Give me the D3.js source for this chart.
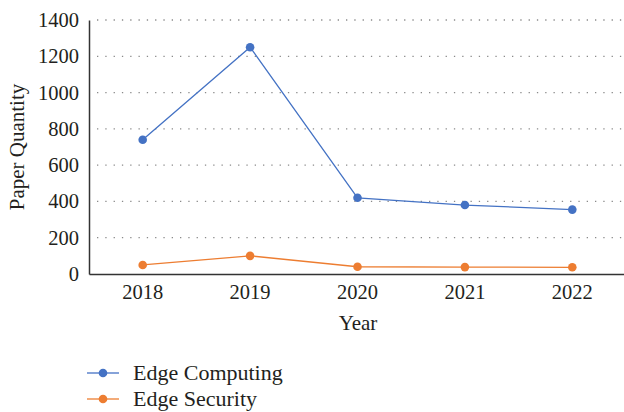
<!DOCTYPE html>
<html>
<head>
<meta charset="utf-8">
<script src="https://cdn.jsdelivr.net/npm/d3@7"></script>
<style>
  body { margin: 0; background: #fff; }
  svg { display: block; font-family: "Liberation Serif", "DejaVu Serif", serif; }
  svg text { font-family: "Liberation Serif", "DejaVu Serif", serif; fill: #231f20; }
</style>
</head>
<body>
<svg id="chart" width="624" height="412"></svg>
<script>
const years = ["2018", "2019", "2020", "2021", "2022"];
const edgeComputing = [740, 1250, 420, 380, 355];
const edgeSecurity = [50, 100, 40, 38, 37];
const yTicks = [0, 200, 400, 600, 800, 1000, 1200, 1400];
const seriesNames = ["Edge Computing", "Edge Security"];
const seriesColors = ["#4472C4", "#ED7D31"];

(function () {
const svg = d3.select("#chart");
const mLeft = 89, mRight = 626, mTop = 20, mBottom = 274;
const serif = "'Liberation Serif', 'DejaVu Serif', serif";

const x = d3.scaleBand().domain(years).range([mLeft, mRight]);
const y = d3.scaleLinear().domain([0, 1400]).range([mBottom, mTop]);

// grid
svg.append("g").selectAll("line").data(yTicks.filter(d => d > 0)).join("line")
  .attr("x1", mLeft + 8).attr("x2", 622)
  .attr("y1", d => y(d)).attr("y2", d => y(d))
  .attr("stroke", "#8a8a8a").attr("stroke-width", 1.3)
  .attr("stroke-dasharray", "1.3,7");

// y axis
const yAxis = d3.axisLeft(y).tickValues(yTicks).tickSize(0).tickPadding(10).tickFormat(d3.format("d"));
const gy = svg.append("g").attr("transform", `translate(${mLeft},0)`).call(yAxis);
gy.attr("font-size", null).attr("font-family", null);
gy.select(".domain").attr("stroke", "#333").attr("stroke-width", 1.5);
gy.selectAll("text").style("font-size", "20.5px").style("font-family", serif);

// x axis
const xAxis = d3.axisBottom(x).tickSize(0).tickPadding(10);
const gx = svg.append("g").attr("transform", `translate(0,${mBottom})`).call(xAxis);
gx.attr("font-size", null).attr("font-family", null);
gx.select(".domain").attr("stroke", "#333").attr("stroke-width", 1.5);
gx.selectAll("text").style("font-size", "20.5px").style("font-family", serif);

// axis titles
svg.append("text").attr("x", 358).attr("y", 330).attr("text-anchor", "middle")
  .style("font-size", "21px").text("Year");
svg.append("text").attr("transform", "translate(24,147) rotate(-90)").attr("text-anchor", "middle")
  .style("font-size", "21px").text("Paper Quantity");

// series
const allSeries = [edgeComputing, edgeSecurity];
const line = d3.line().x((d, i) => x(years[i]) + x.bandwidth() / 2).y(d => y(d));
allSeries.forEach((vals, si) => {
  svg.append("path").datum(vals).attr("d", line)
    .attr("fill", "none").attr("stroke", seriesColors[si]).attr("stroke-width", 1.3);
  svg.append("g").selectAll("circle").data(vals).join("circle")
    .attr("cx", (d, i) => x(years[i]) + x.bandwidth() / 2)
    .attr("cy", d => y(d)).attr("r", 4.3).attr("fill", seriesColors[si]);
});

// legend
const legendY = [373, 399];
seriesNames.forEach((name, i) => {
  const g = svg.append("g");
  g.append("line").attr("x1", 87).attr("x2", 119).attr("y1", legendY[i]).attr("y2", legendY[i])
    .attr("stroke", seriesColors[i]).attr("stroke-width", 1.3);
  g.append("circle").attr("cx", 103).attr("cy", legendY[i]).attr("r", 4.3).attr("fill", seriesColors[i]);
  g.append("text").attr("x", 133).attr("y", legendY[i] + 7).style("font-size", "22px").text(name);
});
})();
</script>
</body>
</html>
